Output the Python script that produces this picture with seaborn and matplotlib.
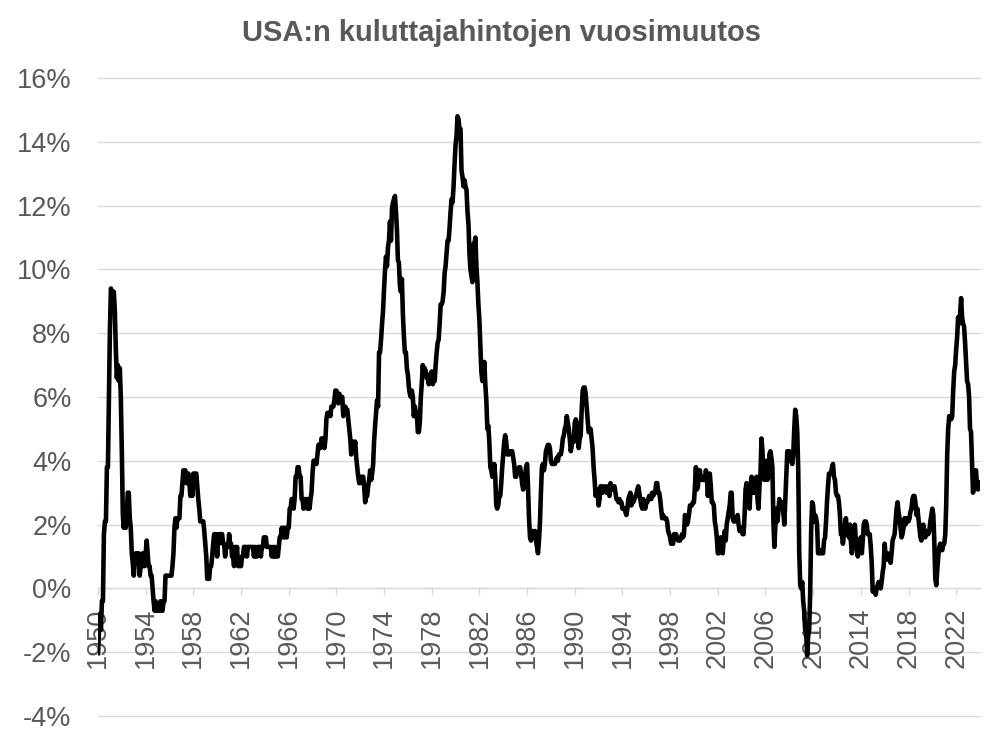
import numpy as np
import pandas as pd
import matplotlib
matplotlib.use("Agg")
import matplotlib.pyplot as plt
import seaborn as sns

title = "USA:n kuluttajahintojen vuosimuutos"
start_month = "1950-01-01"
tick_years = list(range(1950, 2023, 4))
y_ticks = list(range(-4, 17, 2))

cpi_1950s = [
    -2.1, -1.3, -0.8, -1.3, -0.4, -0.4, 1.7, 2.1, 2.1, 3.8, 3.8, 5.9,
    8.1, 9.4, 9.3, 9.3, 9.3, 8.7, 7.5, 6.6, 7.0, 6.5, 6.9, 6.0,
    4.3, 2.3, 1.9, 2.3, 1.9, 2.3, 3.0, 3.0, 2.2, 1.9, 1.1, 0.8,
    0.4, 0.8, 1.1, 0.8, 1.1, 1.1, 0.4, 0.7, 0.7, 1.1, 0.7, 0.7,
    1.1, 1.5, 1.1, 0.7, 0.7, 0.4, 0.4, 0.0, -0.4, -0.7, -0.4, -0.7,
    -0.7, -0.7, -0.7, -0.4, -0.7, -0.7, -0.4, -0.4, 0.4, 0.4, 0.4, 0.4,
    0.4, 0.4, 0.4, 0.7, 1.1, 1.9, 2.2, 1.9, 2.2, 2.2, 2.2, 2.9,
    2.9, 3.3, 3.7, 3.7, 3.7, 3.3, 3.3, 3.6, 3.3, 2.9, 3.3, 2.9,
    3.6, 3.2, 3.6, 3.6, 3.2, 2.8, 2.5, 2.1, 2.1, 2.1, 2.1, 1.8,
    1.4, 1.0, 0.3, 0.3, 0.3, 0.7, 0.7, 1.0, 1.4, 1.7, 1.7, 1.7,
]
cpi_1960s = [
    1.0, 1.7, 1.4, 1.7, 1.7, 1.7, 1.4, 1.4, 1.0, 1.3, 1.3, 1.3,
    1.7, 1.4, 1.4, 1.0, 1.0, 0.7, 1.3, 1.0, 1.3, 0.7, 0.7, 0.7,
    0.7, 1.0, 1.0, 1.3, 1.3, 1.3, 1.0, 1.3, 1.3, 1.3, 1.3, 1.3,
    1.3, 1.0, 1.3, 1.0, 1.0, 1.3, 1.3, 1.3, 1.0, 1.3, 1.3, 1.6,
    1.6, 1.6, 1.3, 1.3, 1.3, 1.3, 1.3, 1.0, 1.3, 1.0, 1.3, 1.0,
    1.0, 1.0, 1.3, 1.6, 1.6, 1.9, 1.6, 1.9, 1.6, 1.9, 1.6, 1.9,
    1.9, 2.5, 2.5, 2.8, 2.8, 2.5, 2.8, 3.5, 3.5, 3.8, 3.8, 3.5,
    3.5, 2.8, 2.8, 2.5, 2.8, 2.8, 2.8, 2.5, 2.8, 2.5, 2.8, 3.0,
    3.6, 4.0, 4.0, 4.0, 3.9, 4.2, 4.5, 4.5, 4.4, 4.7, 4.7, 4.7,
    4.4, 4.7, 5.3, 5.5, 5.5, 5.5, 5.4, 5.7, 5.7, 5.7, 5.9, 6.2,
]
cpi_1970s = [
    6.2, 6.1, 5.8, 6.1, 6.0, 6.0, 6.0, 5.4, 5.7, 5.7, 5.6, 5.6,
    5.3, 5.0, 4.7, 4.2, 4.4, 4.6, 4.4, 4.6, 4.1, 3.8, 3.5, 3.3,
    3.3, 3.5, 3.5, 3.5, 3.2, 2.7, 2.9, 2.9, 3.2, 3.4, 3.7, 3.4,
    3.6, 3.9, 4.6, 5.1, 5.5, 5.9, 5.7, 7.4, 7.4, 7.8, 8.3, 8.7,
    9.4, 10.0, 10.4, 10.1, 10.7, 10.9, 11.5, 10.9, 11.9, 12.1, 12.2, 12.3,
    11.8, 11.2, 10.3, 10.2, 9.5, 9.3, 9.7, 8.6, 7.9, 7.4, 7.4, 6.9,
    6.7, 6.3, 6.1, 6.0, 6.2, 6.0, 5.4, 5.7, 5.5, 5.5, 4.9, 4.9,
    5.2, 6.0, 6.4, 7.0, 6.7, 6.9, 6.8, 6.6, 6.6, 6.4, 6.7, 6.7,
    6.8, 6.4, 6.6, 6.5, 7.0, 7.4, 7.7, 7.8, 8.3, 8.9, 8.9, 9.0,
    9.3, 9.9, 10.1, 10.5, 10.9, 10.9, 11.3, 11.8, 12.2, 12.1, 12.6, 13.3,
]
cpi_1980s = [
    13.9, 14.2, 14.8, 14.7, 14.4, 14.4, 13.1, 12.9, 12.6, 12.8, 12.6, 12.5,
    11.8, 11.4, 10.5, 10.0, 9.8, 9.6, 10.8, 10.8, 11.0, 10.1, 9.6, 8.9,
    8.4, 7.6, 6.8, 6.5, 6.7, 7.1, 6.4, 5.9, 5.0, 5.1, 4.6, 3.8,
    3.7, 3.5, 3.6, 3.9, 3.5, 2.6, 2.5, 2.6, 2.9, 2.9, 3.3, 3.8,
    4.2, 4.6, 4.8, 4.6, 4.2, 4.2, 4.2, 4.3, 4.3, 4.3, 4.1, 3.9,
    3.5, 3.5, 3.7, 3.7, 3.8, 3.8, 3.6, 3.3, 3.1, 3.2, 3.5, 3.8,
    3.9, 3.1, 2.2, 1.6, 1.5, 1.8, 1.6, 1.6, 1.8, 1.5, 1.3, 1.1,
    1.5, 2.1, 3.0, 3.8, 3.9, 3.7, 3.9, 4.3, 4.4, 4.5, 4.5, 4.4,
    4.0, 3.9, 3.9, 3.9, 3.9, 4.0, 4.1, 4.0, 4.2, 4.2, 4.2, 4.4,
    4.7, 4.8, 5.0, 5.1, 5.4, 5.2, 5.0, 4.7, 4.3, 4.5, 4.7, 4.6,
]
cpi_1990s = [
    5.2, 5.3, 5.2, 4.7, 4.4, 4.7, 4.8, 5.6, 6.2, 6.3, 6.3, 6.1,
    5.7, 5.3, 4.9, 4.9, 5.0, 4.7, 4.4, 3.8, 3.4, 2.9, 3.0, 3.1,
    2.6, 2.8, 3.2, 3.2, 3.0, 3.1, 3.2, 3.1, 3.0, 3.2, 3.0, 2.9,
    3.3, 3.2, 3.1, 3.2, 3.2, 3.0, 2.8, 2.8, 2.7, 2.8, 2.7, 2.7,
    2.5, 2.5, 2.5, 2.4, 2.3, 2.5, 2.8, 2.9, 3.0, 2.6, 2.7, 2.7,
    2.8, 2.9, 2.9, 3.1, 3.2, 3.0, 2.8, 2.6, 2.5, 2.8, 2.6, 2.5,
    2.7, 2.7, 2.8, 2.9, 2.9, 2.8, 3.0, 2.9, 3.0, 3.0, 3.3, 3.3,
    3.0, 3.0, 2.8, 2.5, 2.2, 2.3, 2.2, 2.2, 2.2, 2.1, 1.8, 1.7,
    1.6, 1.4, 1.4, 1.4, 1.7, 1.7, 1.7, 1.6, 1.5, 1.5, 1.5, 1.6,
    1.7, 1.6, 1.7, 2.3, 2.1, 2.0, 2.1, 2.3, 2.6, 2.6, 2.6, 2.7,
]
cpi_2000s = [
    2.7, 3.2, 3.8, 3.1, 3.2, 3.7, 3.7, 3.4, 3.5, 3.4, 3.4, 3.4,
    3.7, 3.5, 2.9, 3.3, 3.6, 3.2, 2.7, 2.7, 2.6, 2.1, 1.9, 1.6,
    1.1, 1.1, 1.5, 1.6, 1.2, 1.1, 1.5, 1.8, 1.5, 2.0, 2.2, 2.4,
    2.6, 3.0, 3.0, 2.2, 2.1, 2.1, 2.1, 2.2, 2.3, 2.0, 1.8, 1.9,
    1.9, 1.7, 1.7, 2.3, 3.1, 3.3, 3.0, 2.7, 2.5, 3.2, 3.5, 3.3,
    3.0, 3.0, 3.1, 3.5, 2.8, 2.5, 3.2, 3.6, 4.7, 4.3, 3.5, 3.4,
    4.0, 3.6, 3.4, 3.5, 4.2, 4.3, 4.1, 3.8, 2.1, 1.3, 2.0, 2.5,
    2.1, 2.4, 2.8, 2.6, 2.7, 2.7, 2.4, 2.0, 2.8, 3.5, 4.3, 4.1,
    4.3, 4.0, 4.0, 3.9, 4.2, 5.0, 5.6, 5.4, 4.9, 3.7, 1.1, 0.1,
    0.0, 0.2, -0.4, -0.7, -1.3, -1.4, -2.1, -1.5, -1.3, -0.2, 1.8, 2.7,
]
cpi_2010s = [
    2.6, 2.1, 2.3, 2.2, 2.0, 1.1, 1.2, 1.1, 1.1, 1.2, 1.1, 1.5,
    1.6, 2.1, 2.7, 3.2, 3.6, 3.6, 3.6, 3.8, 3.9, 3.5, 3.4, 3.0,
    2.9, 2.9, 2.7, 2.3, 1.7, 1.7, 1.4, 1.7, 2.0, 2.2, 1.8, 1.7,
    1.6, 2.0, 1.5, 1.1, 1.4, 1.8, 2.0, 1.5, 1.2, 1.0, 1.2, 1.5,
    1.6, 1.1, 1.5, 2.0, 2.1, 2.1, 2.0, 1.7, 1.7, 1.7, 1.3, 0.8,
    -0.1, 0.0, -0.1, -0.2, 0.0, 0.1, 0.2, 0.2, 0.0, 0.2, 0.5, 0.7,
    1.4, 1.0, 0.9, 1.1, 1.0, 1.0, 0.8, 1.1, 1.5, 1.6, 1.7, 2.1,
    2.5, 2.7, 2.4, 2.2, 1.9, 1.6, 1.7, 1.9, 2.2, 2.0, 2.2, 2.1,
    2.1, 2.2, 2.4, 2.5, 2.8, 2.9, 2.9, 2.7, 2.3, 2.5, 2.2, 1.9,
    1.6, 1.5, 1.9, 2.0, 1.8, 1.6, 1.8, 1.7, 1.7, 1.8, 2.1, 2.3,
]
cpi_2020s = [
    2.5, 2.3, 1.5, 0.3, 0.1, 0.6, 1.0, 1.3, 1.4, 1.2, 1.2, 1.4,
    1.4, 1.7, 2.6, 4.2, 5.0, 5.4, 5.4, 5.3, 5.4, 6.2, 6.8, 7.0,
    7.5, 7.9, 8.5, 8.3, 8.6, 9.1, 8.5, 8.3, 8.2, 7.7, 7.1, 6.5,
    6.4, 6.0, 5.0, 4.9, 4.0, 3.0, 3.2, 3.7, 3.7, 3.2, 3.1, 3.4,
]

values = cpi_1950s + cpi_1960s + cpi_1970s + cpi_1980s + cpi_1990s + cpi_2000s + cpi_2010s + cpi_2020s
dates = pd.date_range(start_month, periods=len(values), freq="MS")
df = pd.DataFrame({"date": dates, "cpi": values})

sns.set_theme(style="white")
plt.rcParams["font.family"] = ["Liberation Sans", "DejaVu Sans"]
text_col = "#595959"
grid_col = "#d9d9d9"

fig = plt.figure(figsize=(10.02, 7.42), dpi=100)
ax = fig.add_axes([98 / 1002, 26 / 742, 882 / 1002, 638 / 742])
ax.set_axisbelow(True)

for yv in y_ticks:
    ax.axhline(yv, color=grid_col, linewidth=1.0, zorder=0.3, clip_on=False)

sns.lineplot(data=df, x="date", y="cpi", ax=ax, color="black", linewidth=3.3,
             solid_joinstyle="round", solid_capstyle="butt", zorder=3)

ax.set_ylim(-4, 16)
ax.set_xlim(pd.Timestamp("1950-01-01"), pd.Timestamp("2024-01-01"))
ax.set_yticks(y_ticks)
ax.set_yticklabels([f"{v}%" for v in y_ticks])
ax.set_xticks([pd.Timestamp(f"{y}-01-01") for y in tick_years])
ax.set_xticklabels([str(y) for y in tick_years])
ax.set_xlabel("")
ax.set_ylabel("")

for s in ["left", "right", "top"]:
    ax.spines[s].set_visible(False)
ax.spines["bottom"].set_position(("data", 0))
ax.spines["bottom"].set_color(grid_col)
ax.spines["bottom"].set_linewidth(1.0)
ax.spines["bottom"].set_zorder(0.4)

ax.tick_params(axis="x", which="major", direction="out", length=5, width=1,
               color=grid_col, labelcolor=text_col, labelsize=19.5, pad=9,
               bottom=True, labelrotation=90)
ax.tick_params(axis="y", length=0, labelcolor=text_col, labelsize=19.5, pad=19)

fig.text(0.5, 1 - 33 / 742, title, ha="center", va="center", fontsize=21,
         fontweight="bold", color=text_col)

fig.savefig("out.png", dpi=100, facecolor="white")
